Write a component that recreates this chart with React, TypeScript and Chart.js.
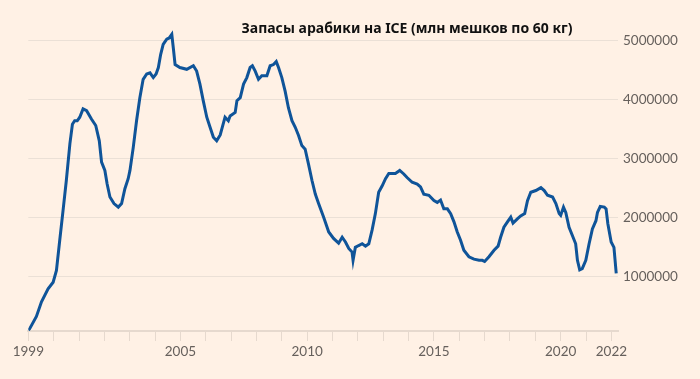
import React, { useEffect, useRef } from "react";
import { Chart, registerables } from "chart.js";

Chart.register(...registerables);

const TITLE = "Запасы арабики на ICE (млн мешков по 60 кг)";

// decimal year
const dates: number[] = [
  1999.0, 1999.05, 1999.32, 1999.52, 1999.78, 1999.98, 2000.11, 2000.24, 2000.37, 2000.5,
  2000.64, 2000.74, 2000.83, 2000.93, 2001.03, 2001.16, 2001.3, 2001.49, 2001.66, 2001.8,
  2001.89, 2002.02, 2002.11, 2002.22, 2002.38, 2002.55, 2002.68, 2002.81, 2002.94, 2003.01,
  2003.14, 2003.27, 2003.4, 2003.53, 2003.67, 2003.8, 2003.93, 2004.04, 2004.13, 2004.22,
  2004.32, 2004.46, 2004.56, 2004.66, 2004.72, 2004.79, 2004.98, 2005.25, 2005.51, 2005.64,
  2005.77, 2005.9, 2006.04, 2006.17, 2006.3, 2006.43, 2006.57, 2006.76, 2006.89, 2006.96,
  2007.16, 2007.23, 2007.36, 2007.49, 2007.62, 2007.75, 2007.84, 2007.95, 2008.08, 2008.21,
  2008.41, 2008.54, 2008.67, 2008.78, 2008.87, 2009.0, 2009.13, 2009.26, 2009.4, 2009.53,
  2009.66, 2009.79, 2009.92, 2010.05, 2010.19, 2010.32, 2010.45, 2010.65, 2010.85, 2011.04,
  2011.24, 2011.38, 2011.51, 2011.64, 2011.77, 2011.81, 2011.9, 2012.03, 2012.17, 2012.3,
  2012.43, 2012.56, 2012.69, 2012.82, 2012.96, 2013.09, 2013.22, 2013.48, 2013.65, 2013.81,
  2013.94, 2014.14, 2014.34, 2014.47, 2014.6, 2014.8, 2015.0, 2015.13, 2015.26, 2015.39,
  2015.53, 2015.66, 2015.79, 2015.92, 2016.05, 2016.18, 2016.38, 2016.58, 2016.78, 2016.91,
  2017.0, 2017.17, 2017.37, 2017.53, 2017.63, 2017.76, 2017.9, 2018.03, 2018.12, 2018.29,
  2018.42, 2018.58, 2018.69, 2018.82, 2019.02, 2019.22, 2019.35, 2019.48, 2019.68, 2019.81,
  2019.94, 2020.0, 2020.11, 2020.2, 2020.33, 2020.46, 2020.59, 2020.66, 2020.75, 2020.85,
  2020.99, 2021.12, 2021.25, 2021.39, 2021.45, 2021.56, 2021.72, 2021.79, 2021.86, 2021.99,
  2022.1, 2022.19,
];

// stocks, million bags
const stocks: number[] = [
  0.1, 0.12, 0.33, 0.58, 0.8, 0.91, 1.11, 1.62, 2.12, 2.63,
  3.25, 3.58, 3.64, 3.64, 3.7, 3.84, 3.81, 3.67, 3.56, 3.3,
  2.94, 2.8, 2.57, 2.35, 2.24, 2.18, 2.24, 2.49, 2.66, 2.8,
  3.19, 3.64, 4.03, 4.34, 4.43, 4.45, 4.37, 4.43, 4.54, 4.76,
  4.93, 5.02, 5.04, 5.1, 4.87, 4.59, 4.54, 4.51, 4.57, 4.48,
  4.26, 3.98, 3.7, 3.53, 3.36, 3.3, 3.4, 3.7, 3.64, 3.72,
  3.78, 3.98, 4.03, 4.26, 4.37, 4.54, 4.57, 4.48, 4.34, 4.4,
  4.4, 4.57, 4.59, 4.64, 4.54, 4.37, 4.14, 3.86, 3.64, 3.53,
  3.39, 3.22, 3.16, 2.91, 2.63, 2.4, 2.24, 2.01, 1.76, 1.65,
  1.57, 1.67, 1.59, 1.48, 1.42, 1.28, 1.5, 1.53, 1.56, 1.52,
  1.56, 1.79, 2.07, 2.43, 2.54, 2.66, 2.75, 2.75, 2.8, 2.74,
  2.68, 2.6, 2.57, 2.52, 2.4, 2.38, 2.29, 2.26, 2.3, 2.15,
  2.15, 2.07, 1.93, 1.76, 1.62, 1.45, 1.34, 1.3, 1.28, 1.28,
  1.26, 1.34, 1.45, 1.52, 1.67, 1.84, 1.93, 2.01, 1.91, 1.98,
  2.03, 2.07, 2.29, 2.43, 2.46, 2.51, 2.46, 2.38, 2.35, 2.24,
  2.07, 2.04, 2.18, 2.09, 1.84, 1.7, 1.56, 1.28, 1.12, 1.14,
  1.28, 1.56, 1.81, 1.95, 2.09, 2.19, 2.18, 2.15, 1.9, 1.59,
  1.5, 1.06,
];

const xTickYears: number[] = Array.from({ length: 24 }, (_, i) => 1999 + i);
const xLabelYears: number[] = [1999, 2005, 2010, 2015, 2020, 2022];
const yTicks: number[] = [1000000, 2000000, 3000000, 4000000, 5000000];

const BG = "#fff1e5";
const LINE = "#0f5499";
const GRID = "#ebe0d6";
const AXIS = "#e6d9ce";
const TEXT = "#66605c";

export default function App() {
  const ref = useRef<HTMLCanvasElement>(null);

  useEffect(() => {
    document.body.style.background = BG;
    const canvas = ref.current;
    if (!canvas) return;

    const titlePlugin = {
      id: "titleText",
      afterDraw(chart: any) {
        const ctx = chart.ctx;
        ctx.save();
        ctx.font = "bold 14px 'Noto Sans'";
        ctx.fillStyle = "#111111";
        ctx.textAlign = "center";
        ctx.textBaseline = "middle";
        ctx.fillText(TITLE, 399, 21);
        ctx.restore();
      },
    };

    const chart = new Chart(canvas, {
      type: "line",
      data: {
        datasets: [
          {
            data: dates.map((d, i) => ({ x: d, y: stocks[i] * 1e6 })),
            borderColor: LINE,
            borderWidth: 3,
            pointRadius: 0,
            tension: 0,
            fill: false,
          },
        ],
      },
      options: {
        animation: false,
        responsive: true,
        maintainAspectRatio: false,
        layout: { padding: { left: 20.3, right: 0, top: 12, bottom: 0 } },
        plugins: { legend: { display: false }, tooltip: { enabled: false }, title: { display: false } },
        scales: {
          x: {
            type: "linear",
            min: 1999,
            max: 2022.26,
            afterBuildTicks: (s: any) => {
              s.ticks = xTickYears.map((v) => ({ value: v }));
            },
            afterFit: (s: any) => {
              s.height = 40;
            },
            ticks: {
              autoSkip: false,
              maxRotation: 0,
              padding: 3,
              color: TEXT,
              font: { family: "Lato", size: 13.5 },
              callback: (v: any) => (xLabelYears.includes(Number(v)) ? String(v) : ""),
            },
            grid: {
              drawOnChartArea: false,
              drawTicks: true,
              tickLength: 10,
              tickColor: AXIS,
              tickWidth: 1,
            },
            border: { display: true, color: AXIS, width: 2 },
          },
          y: {
            position: "right",
            min: 85000,
            max: 5325000,
            afterBuildTicks: (s: any) => {
              s.ticks = yTicks.map((v) => ({ value: v }));
            },
            afterFit: (s: any) => {
              s.width = 74;
            },
            ticks: {
              padding: 5,
              color: TEXT,
              font: { family: "Lato", size: 13.5 },
              callback: (v: any) => String(v),
            },
            grid: { color: GRID, lineWidth: 1, drawTicks: false },
            border: { display: false },
          },
        },
      },
      plugins: [titlePlugin],
    });

    return () => chart.destroy();
  }, []);

  return (
    <div style={{ width: 684, height: 363, position: "relative" }}>
      <canvas ref={ref} />
    </div>
  );
}
